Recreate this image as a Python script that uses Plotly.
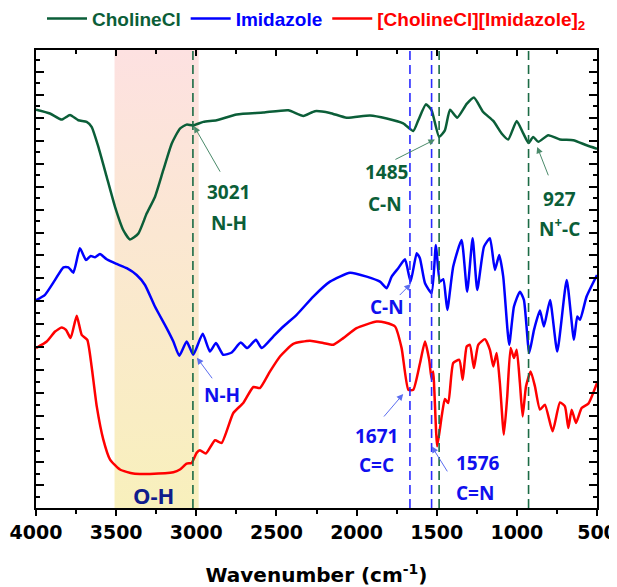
import plotly.graph_objects as go

# ---- data (wavenumber in cm-1, transmittance in arbitrary offset units) ----
green_wn = [4000, 3913, 3840, 3788, 3736, 3684, 3653, 3611, 3559, 3507, 3455, 3414, 3362, 3309, 3258, 3206, 3153, 3102, 3060, 3021,
            2956, 2873, 2748, 2582, 2426, 2332, 2260, 2166, 2062, 1916, 1812, 1709, 1646, 1615, 1567, 1532, 1485, 1449, 1417, 1372,
            1313, 1268, 1210, 1147, 1095, 1054, 1001, 960, 927, 898, 866, 804, 731, 648, 565, 500]
green_t = [34.7, 34.37, 33.84, 34.24, 33.78, 33.64, 33.2, 31.46, 28.85, 26.24, 24.2, 23.4, 23.9, 25.67, 27.1, 29.43, 31.76, 33.06, 33.4, 33.32,
           33.64, 33.78, 34.28, 34.45, 34.65, 34.16, 34.57, 34.42, 34.0, 34.2, 33.93, 33.5, 32.85, 33.78, 35.17, 34.65, 32.33, 32.9, 34.7, 34.0,
           35.2, 35.76, 34.5, 33.72, 32.63, 32.1, 33.72, 32.63, 31.8, 32.33, 31.9, 32.48, 32.1, 32.04, 31.6, 31.3]

blue_wn = [4000, 3944, 3881, 3829, 3798, 3767, 3726, 3688, 3659, 3632, 3601, 3559, 3497, 3434, 3372, 3320, 3258, 3185, 3143, 3106,
           3060, 3019, 2960, 2915, 2877, 2832, 2779, 2723, 2682, 2628, 2592, 2520, 2457, 2374, 2270, 2166, 2041, 1937, 1854, 1812,
           1781, 1740, 1698, 1663, 1625, 1605, 1573, 1532, 1505, 1480, 1459, 1434, 1397, 1345, 1310, 1276, 1247, 1205, 1168, 1137,
           1110, 1085, 1048, 1018, 981, 956, 923, 893, 856, 831, 793, 748, 689, 644, 623, 606, 565, 500]
blue_t = [18.1, 18.57, 19.87, 20.97, 20.97, 20.5, 22.63, 21.6, 21.96, 21.84, 22.13, 21.67, 21.26, 20.89, 20.3, 19.43, 17.55, 15.67, 14.5, 13.26,
          14.5, 13.35, 15.17, 13.63, 14.37, 13.35, 13.55, 14.42, 13.93, 14.65, 13.93, 14.94, 15.81, 16.83, 18.42, 19.72, 20.5, 20.16, 19.72, 19.15,
          20.16, 20.89, 21.67, 19.72, 22.19, 21.76, 19.58, 18.71, 22.91, 19.72, 19.93, 17.26, 21.03, 23.35, 18.85, 23.5, 19.0, 22.77, 23.5, 20.74,
          22.04, 20.16, 14.22, 17.55, 18.85, 18.13, 13.5, 15.52, 17.2, 15.81, 18.13, 13.63, 19.87, 14.65, 16.68, 16.39, 18.42, 20.3]

red_wn = [4000, 3933, 3881, 3840, 3813, 3784, 3746, 3715, 3680, 3653, 3621, 3580, 3538, 3476, 3393, 3289, 3143, 3102, 3060, 3029,
          2998, 2977, 2940, 2883, 2842, 2769, 2707, 2644, 2603, 2540, 2478, 2395, 2291, 2208, 2145, 2083, 2000, 1875, 1823, 1760,
          1719, 1677, 1646, 1604, 1573, 1547, 1532, 1522, 1497, 1469, 1449, 1428, 1397, 1359, 1338, 1313, 1293, 1268, 1241, 1199,
          1168, 1147, 1126, 1106, 1081, 1060, 1039, 1018, 1001, 981, 964, 943, 914, 887, 856, 825, 777, 731, 700, 679,
          658, 631, 596, 554, 500]
red_t = [13.93, 14.5, 15.37, 15.72, 15.52, 14.8, 16.74, 15.09, 14.65, 12.33, 8.85, 5.96, 4.22, 3.35, 3.0, 2.97, 3.11, 3.35, 3.87, 3.93,
         4.8, 5.03, 4.74, 5.9, 5.67, 8.28, 9.15, 10.54, 10.45, 11.9, 13.2, 14.3, 14.57, 14.37, 14.22, 14.8, 15.67, 16.24, 16.16, 15.81,
         13.93, 10.3, 10.3, 12.63, 14.5, 12.91, 11.23, 11.9, 5.37, 7.98, 9.5, 9.15, 12.63, 12.91, 11.17, 14.07, 14.22, 12.19, 14.22, 14.71,
         13.78, 12.33, 13.5, 10.89, 6.39, 9.72, 13.93, 13.06, 13.78, 10.89, 7.98, 10.59, 11.9, 10.59, 8.57, 9.0, 6.68, 9.2, 8.85, 6.97,
         8.57, 7.41, 8.71, 9.09, 10.9]

series_names = ["CholineCl", "Imidazole", "[CholineCl][Imidazole]<sub>2</sub>"]
series_colors = ["#0b5e38", "#0000ff", "#ff0000"]

green_lines = [3021, 1485, 927]
blue_lines = [1667, 1532]
oh_band = [3510, 2985]
y_range = [0, 39.9]

GREEN_TXT = "#0b5e38"
BLUE_TXT = "#1010ee"
ANN_FONT = "Open Sans"
AX_FONT = "DejaVu Sans"
LEG_FONT = "Liberation Sans"

fig = go.Figure()

# O-H shaded band (vertical gradient)
fig.add_trace(go.Scatter(
    x=[oh_band[0], oh_band[1], oh_band[1], oh_band[0], oh_band[0]],
    y=[y_range[0], y_range[0], y_range[1], y_range[1], y_range[0]],
    mode="lines", line=dict(width=0), fill="toself",
    fillgradient=dict(type="vertical", colorscale=[[0, "#f8f0bc"], [1, "#fde1e1"]]),
    showlegend=False, hoverinfo="skip"))

for wn, t, nm, col in zip([green_wn, blue_wn, red_wn], [green_t, blue_t, red_t], series_names, series_colors):
    fig.add_trace(go.Scatter(
        x=wn, y=t, mode="lines",
        line=dict(color=col, width=2.5, shape="spline", smoothing=0.5),
        name=f"<span style='color:{col}'><b>{nm}</b></span>"))

# dummy trace for top axis
fig.add_trace(go.Scatter(x=[4000, 500], y=[None, None], xaxis="x2", mode="lines", showlegend=False, hoverinfo="skip"))

for wn in green_lines:
    fig.add_shape(type="line", x0=wn, x1=wn, y0=0, y1=1, xref="x", yref="paper",
                  line=dict(color="#1b6b45", width=1.6, dash="9px,5px"))
for wn in blue_lines:
    fig.add_shape(type="line", x0=wn, x1=wn, y0=0, y1=1, xref="x", yref="paper",
                  line=dict(color="#2a2aff", width=1.6, dash="9px,5px"))

def label(x, y, text, color, size=19):
    fig.add_annotation(x=x, y=y, text=f"<b>{text}</b>", showarrow=False,
                       font=dict(family=ANN_FONT, size=size, color=color, weight=800))

def arrow(x_head, y_head, x_tail, y_tail, color):
    fig.add_annotation(x=x_head, y=y_head, ax=x_tail, ay=y_tail, axref="x", ayref="y",
                       text="", showarrow=True, arrowhead=2, arrowsize=1.3, arrowwidth=1,
                       arrowcolor=color)

# CholineCl annotations
arrow(3014, 33.26, 2846, 29.17, "#4a8a6a")
label(2802, 27.52, "3021", GREEN_TXT)
label(2796, 24.83, "N-H", GREEN_TXT)
arrow(1511, 32.1, 1767, 30.3, "#4a8a6a")
label(1816, 29.26, "1485", GREEN_TXT)
label(1823, 26.48, "C-N", GREEN_TXT)
arrow(873, 31.46, 800, 28.85, "#4a8a6a")
label(737, 26.96, "927", GREEN_TXT)
label(737, 24.35, "N<sup>+</sup>-C", GREEN_TXT)

# Imidazole annotations
arrow(1662, 19.52, 1740, 18.42, "#5b6df0")
label(1812, 17.52, "C-N", BLUE_TXT)
arrow(2996, 13.09, 2894, 11.17, "#5b6df0")
label(2842, 9.87, "N-H", BLUE_TXT)

# Mixture annotations
arrow(1709, 9.93, 1837, 7.84, "#5b6df0")
label(1874, 6.24, "1671", BLUE_TXT)
label(1874, 3.78, "C=C", BLUE_TXT)
arrow(1531, 5.37, 1428, 3.06, "#5b6df0")
label(1241, 3.96, "1576", BLUE_TXT)
label(1261, 1.32, "C=N", BLUE_TXT)

label(3268, 1.17, "O-H", "#101c8c", size=22)

fig.update_layout(
    width=609, height=579,
    margin=dict(l=28, r=20, t=41.5, b=78.5, autoexpand=False),
    paper_bgcolor="white", plot_bgcolor="white",
    font=dict(family=AX_FONT, color="black"),
    legend=dict(orientation="h", x=0.5, xanchor="center", y=1.0686, yanchor="middle",
                font=dict(size=19, family=LEG_FONT, weight="bold"), itemwidth=40,
                bgcolor="rgba(0,0,0,0)"),
    xaxis=dict(range=[4000, 500], tickmode="linear", tick0=500, dtick=500,
               ticks="outside", ticklen=6, tickwidth=1.5, tickcolor="black",
               minor=dict(dtick=250, ticks="outside", ticklen=4, tickwidth=1.5, tickcolor="black"),
               showline=True, linewidth=2, linecolor="black", mirror=True,
               showgrid=False, zeroline=False, tickformat="d",
               tickfont=dict(size=19, family=AX_FONT, weight="bold"),
               title=dict(text="<b>Wavenumber (cm<sup>-1</sup>)</b>", font=dict(size=20, family=AX_FONT), standoff=29)),
    xaxis2=dict(range=[4000, 500], overlaying="x", side="top", tickmode="linear", tick0=500, dtick=500,
                ticks="inside", ticklen=6, tickwidth=1.5, tickcolor="black",
                minor=dict(dtick=250, ticks="inside", ticklen=4, tickwidth=1.5, tickcolor="black"),
                showticklabels=False, showgrid=False, zeroline=False, showline=False),
    yaxis=dict(range=y_range, tickmode="linear", tick0=0, dtick=2,
               ticks="inside", ticklen=8, tickwidth=1.5, tickcolor="black",
               minor=dict(dtick=1, ticks="inside", ticklen=4, tickwidth=1.5, tickcolor="black"),
               showticklabels=False, showline=True, linewidth=2, linecolor="black", mirror="ticks",
               showgrid=False, zeroline=False),
)

fig.write_html("out.html")
